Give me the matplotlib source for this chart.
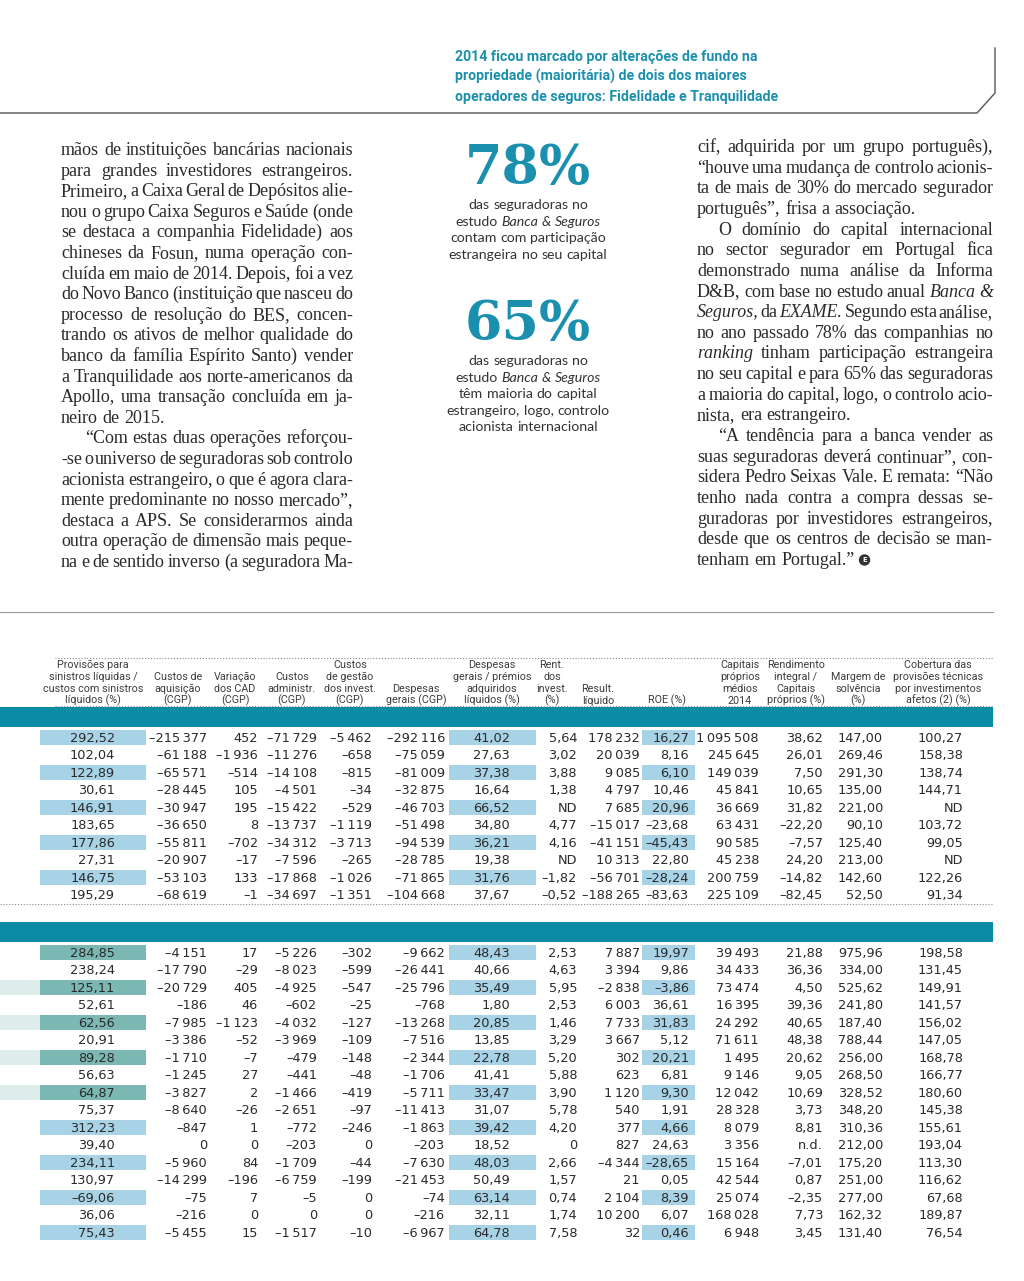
import matplotlib
matplotlib.use('Agg')
import matplotlib.pyplot as plt
from matplotlib import font_manager
from matplotlib.patches import Rectangle, Circle

# ---- page text -------------------------------------------------------
TITLE = ['2014 ficou marcado por alterações de fundo na',
         'propriedade (maioritária) de dois dos maiores',
         'operadores de seguros: Fidelidade e Tranquilidade']

# '>' = indented first line, '|' = last line of paragraph, '*' = italic word
LEFT_COL = [
    'mãos de instituições bancárias nacionais',
    'para grandes investidores estrangeiros.',
    'Primeiro, a Caixa Geral de Depósitos alie-',
    'nou o grupo Caixa Seguros e Saúde (onde',
    'se destaca a companhia Fidelidade) aos',
    'chineses da Fosun, numa operação con-',
    'cluída em maio de 2014. Depois, foi a vez',
    'do Novo Banco (instituição que nasceu do',
    'processo de resolução do BES, concen-',
    'trando os ativos de melhor qualidade do',
    'banco da família Espírito Santo) vender',
    'a Tranquilidade aos norte-americanos da',
    'Apollo, uma transação concluída em ja-',
    'neiro de 2015.|',
    '>“Com estas duas operações reforçou-',
    '-se o universo de seguradoras sob controlo',
    'acionista estrangeiro, o que é agora clara-',
    'mente predominante no nosso mercado”,',
    'destaca a APS. Se considerarmos ainda',
    'outra operação de dimensão mais peque-',
    'na e de sentido inverso (a seguradora Ma-',
]
RIGHT_COL = [
    'cif, adquirida por um grupo português),',
    '“houve uma mudança de controlo acionis-',
    'ta de mais de 30% do mercado segurador',
    'português”, frisa a associação.|',
    '>O domínio do capital internacional',
    'no sector segurador em Portugal fica',
    'demonstrado numa análise da Informa',
    'D&B, com base no estudo anual *Banca *&',
    '*Seguros, da *EXAME. Segundo esta análise,',
    'no ano passado 78% das companhias no',
    '*ranking tinham participação estrangeira',
    'no seu capital e para 65% das seguradoras',
    'a maioria do capital, logo, o controlo acio-',
    'nista, era estrangeiro.|',
    '>“A tendência para a banca vender as',
    'suas seguradoras deverá continuar”, con-',
    'sidera Pedro Seixas Vale. E remata: “Não',
    'tenho nada contra a compra dessas se-',
    'guradoras por investidores estrangeiros,',
    'desde que os centros de decisão se man-',
    'tenham em Portugal.”|',
]

STAT_1 = '78%'
STAT_1_TEXT = ['das seguradoras no', 'estudo *Banca *& *Seguros',
               'contam com participação', 'estrangeira no seu capital']
STAT_2 = '65%'
STAT_2_TEXT = ['das seguradoras no', 'estudo *Banca *& *Seguros',
               'têm maioria do capital', 'estrangeiro, logo, controlo',
               'acionista internacional']

# ---- table -----------------------------------------------------------
HEADERS = [
    ['Provisões para', 'sinistros líquidas /', 'custos com sinistros', 'líquidos (%)'],
    ['Custos de', 'aquisição', '(CGP)'],
    ['Variação', 'dos CAD', '(CGP)'],
    ['Custos', 'administr.', '(CGP)'],
    ['Custos', 'de gestão', 'dos invest.', '(CGP)'],
    ['Despesas', 'gerais (CGP)'],
    ['Despesas', 'gerais / prémios', 'adquiridos', 'líquidos (%)'],
    ['Rent.', 'dos', 'invest.', '(%)'],
    ['Result.', 'líquido'],
    ['ROE (%)'],
    ['Capitais', 'próprios', 'médios', '2014'],
    ['Rendimento', 'integral /', 'Capitais', 'próprios (%)'],
    ['Margem de', 'solvência', '(%)'],
    ['Cobertura das', 'provisões técnicas', 'por investimentos', 'afetos (2) (%)'],
]
SECTION_SIZES = [10, 17]

provisoes_sinistros = [292.52, 102.04, 122.89, 30.61, 146.91, 183.65, 177.86, 27.31, 146.75, 195.29,
                       284.85, 238.24, 125.11, 52.61, 62.56, 20.91, 89.28, 56.63, 64.87, 75.37,
                       312.23, 39.40, 234.11, 130.97, -69.06, 36.06, 75.43]
custos_aquisicao = [-215377, -61188, -65571, -28445, -30947, -36650, -55811, -20907, -53103, -68619,
                    -4151, -17790, -20729, -186, -7985, -3386, -1710, -1245, -3827, -8640,
                    -847, 0, -5960, -14299, -75, -216, -5455]
variacao_cad = [452, -1936, -514, 105, 195, 8, -702, -17, 133, -1,
                17, -29, 405, 46, -1123, -52, -7, 27, 2, -26,
                1, 0, 84, -196, 7, 0, 15]
custos_administrativos = [-71729, -11276, -14108, -4501, -15422, -13737, -34312, -7596, -17868, -34697,
                          -5226, -8023, -4925, -602, -4032, -3969, -479, -441, -1466, -2651,
                          -772, -203, -1709, -6759, -5, 0, -1517]
custos_gestao_invest = [-5462, -658, -815, -34, -529, -1119, -3713, -265, -1026, -1351,
                        -302, -599, -547, -25, -127, -109, -148, -48, -419, -97,
                        -246, 0, -44, -199, 0, 0, -10]
despesas_gerais = [-292116, -75059, -81009, -32875, -46703, -51498, -94539, -28785, -71865, -104668,
                   -9662, -26441, -25796, -768, -13268, -7516, -2344, -1706, -5711, -11413,
                   -1863, -203, -7630, -21453, -74, -216, -6967]
despesas_premios = [41.02, 27.63, 37.38, 16.64, 66.52, 34.80, 36.21, 19.38, 31.76, 37.67,
                    48.43, 40.66, 35.49, 1.80, 20.85, 13.85, 22.78, 41.41, 33.47, 31.07,
                    39.42, 18.52, 48.03, 50.49, 63.14, 32.11, 64.78]
rent_invest = [5.64, 3.02, 3.88, 1.38, 'ND', 4.77, 4.16, 'ND', -1.82, -0.52,
               2.53, 4.63, 5.95, 2.53, 1.46, 3.29, 5.20, 5.88, 3.90, 5.78,
               4.20, '0', 2.66, 1.57, 0.74, 1.74, 7.58]
resultado_liquido = [178232, 20039, 9085, 4797, 7685, -15017, -41151, 10313, -56701, -188265,
                     7887, 3394, -2838, 6003, 7733, 3667, 302, 623, 1120, 540,
                     377, 827, -4344, 21, 2104, 10200, 32]
roe = [16.27, 8.16, 6.10, 10.46, 20.96, -23.68, -45.43, 22.80, -28.24, -83.63,
       19.97, 9.86, -3.86, 36.61, 31.83, 5.12, 20.21, 6.81, 9.30, 1.91,
       4.66, 24.63, -28.65, 0.05, 8.39, 6.07, 0.46]
capitais_proprios = [1095508, 245645, 149039, 45841, 36669, 63431, 90585, 45238, 200759, 225109,
                     39493, 34433, 73474, 16395, 24292, 71611, 1495, 9146, 12042, 28328,
                     8079, 3356, 15164, 42544, 25074, 168028, 6948]
rendimento_integral = [38.62, 26.01, 7.50, 10.65, 31.82, -22.20, -7.57, 24.20, -14.82, -82.45,
                       21.88, 36.36, 4.50, 39.36, 40.65, 48.38, 20.62, 9.05, 10.69, 3.73,
                       8.81, 'n.d.', -7.01, 0.87, -2.35, 7.73, 3.45]
margem_solvencia = [147.00, 269.46, 291.30, 135.00, 221.00, 90.10, 125.40, 213.00, 142.60, 52.50,
                    975.96, 334.00, 525.62, 241.80, 187.40, 788.44, 256.00, 268.50, 328.52, 348.20,
                    310.36, 212.00, 175.20, 251.00, 277.00, 162.32, 131.40]
cobertura_provisoes = [100.27, 158.38, 138.74, 144.71, 'ND', 103.72, 99.05, 'ND', 122.26, 91.34,
                       198.58, 131.45, 149.91, 141.57, 156.02, 147.05, 168.78, 166.77, 180.60, 145.38,
                       155.61, 193.04, 113.30, 116.62, 67.68, 189.87, 76.54]

COLUMNS = [provisoes_sinistros, custos_aquisicao, variacao_cad, custos_administrativos,
           custos_gestao_invest, despesas_gerais, despesas_premios, rent_invest,
           resultado_liquido, roe, capitais_proprios, rendimento_integral,
           margem_solvencia, cobertura_provisoes]
DECIMALS = [2, 0, 0, 0, 0, 0, 2, 2, 0, 2, 0, 2, 2, 2]
HIGHLIGHT_COLS = [0, 6, 9]

# ---- layout / style ----------------------------------------------------
W, H = 1024, 1281
TEAL = '#0c8ba6'
TEAL_TXT = '#1a8fae'
INK = '#2a2a2a'
HL_LIGHT = '#a8d3e6'
HL_DARK = '#7cb8b3'

COL_RIGHT = [115, 207, 258, 317, 372, 445, 510, 577, 640, 689, 759, 823, 883, 963]
HEAD_X = [93, 178, 235, 292, 350, 416, 492, 552, 598, 667, 740, 796, 858, 938]
HL_SPAN = {0: (40, 146), 6: (449, 536), 9: (642, 695)}
SEC_TOP = [737, 952]
BANDS = [(707, 727), (922, 942)]
ROW_STEP = 17.5

names = {f.name for f in font_manager.fontManager.ttflist}


def pick(*cands):
    for c in cands:
        if c in names:
            return c
    return 'DejaVu Sans'


NARROW = pick('Liberation Sans Narrow', 'Roboto')
SERIF = pick('Liberation Serif', 'DejaVu Serif')
LIGHT = pick('Lato', 'Open Sans', 'Roboto')

fig = plt.figure(figsize=(W / 100, H / 100), dpi=100)
fig.patch.set_facecolor('white')
ax = fig.add_axes([0, 0, 1, 1])
ax.set_xlim(0, W)
ax.set_ylim(H, 0)
ax.axis('off')
renderer = fig.canvas.get_renderer()


def width_of(txt, **kw):
    t = ax.text(0, 0, txt, **kw)
    w = t.get_window_extent(renderer).width
    t.remove()
    return w


def fit_size(txt, target, base=10, **kw):
    return base * target / width_of(txt, fontsize=base, **kw)


def word_texts(words, y, size, family, color):
    out = []
    for w in words:
        style = 'italic' if w.startswith('*') else 'normal'
        out.append(ax.text(0, y, w.lstrip('*'), fontsize=size, family=family,
                           style=style, color=color, va='baseline', ha='left'))
    return out


def set_column(lines, x0, x1, y0, step, size, indent=24):
    nat = 0.25 * size * 100 / 72
    end = x0
    for i, line in enumerate(lines):
        ind = line.startswith('>')
        last = line.endswith('|')
        words = line.strip('>|').split(' ')
        y = y0 + i * step
        texts = word_texts(words, y, size, SERIF, INK)
        widths = [t.get_window_extent(renderer).width for t in texts]
        left = x0 + (indent if ind else 0)
        avail = x1 - left
        total = sum(widths)
        n = len(words)
        if last or n == 1:
            gap = nat
        else:
            gap = (avail - total) / (n - 1)
            if gap < 0.45 * nat:
                k = (avail - 0.45 * nat * (n - 1)) / total
                for t in texts:
                    t.set_fontsize(size * k)
                widths = [t.get_window_extent(renderer).width for t in texts]
                gap = (avail - sum(widths)) / (n - 1)
        x = left
        for t, w in zip(texts, widths):
            t.set_x(x)
            x += w + gap
        end = x - gap
    return end


def centered_lines(lines, xc, y0, step, size, family, color):
    nat = 0.27 * size * 100 / 72
    for i, line in enumerate(lines):
        words = line.split(' ')
        texts = word_texts(words, y0 + i * step, size, family, color)
        widths = [t.get_window_extent(renderer).width for t in texts]
        total = sum(widths) + nat * (len(words) - 1)
        x = xc - total / 2
        for t, w in zip(texts, widths):
            t.set_x(x)
            x += w + nat


# ---- header rule + title ----------------------------------------------
ax.plot([0, 977, 995, 995], [113, 113, 93, 48], color='#555555', lw=1.0,
        solid_joinstyle='round')
tsize = fit_size(TITLE[2], 322, family=NARROW, weight='bold')
for i, line in enumerate(TITLE):
    ax.text(455, 61.5 + i * 19.5, line, fontsize=tsize, family=NARROW,
            weight='bold', color=TEAL_TXT, va='baseline', ha='left')

# ---- body columns -----------------------------------------------------
end_left = set_column(LEFT_COL, 61, 353, 155, 20.6, 13)
end_right = set_column(RIGHT_COL, 697, 993, 152, 20.65, 13, indent=21)
ey = 152 + 20 * 20.65 - 5
ax.add_patch(Circle((end_right + 10, ey), 5, color='#333333', zorder=3))
ax.text(end_right + 10, ey + 0.3, 'E', fontsize=5, weight='bold', color='white',
        ha='center', va='center', zorder=4)

# ---- centre statistics ------------------------------------------------
XC = 528
ssize = fit_size(STAT_1, 126, family='DejaVu Serif', weight='bold')
ax.text(XC, 184, STAT_1, fontsize=ssize, family='DejaVu Serif', weight='bold',
        color=TEAL_TXT, ha='center', va='baseline')
ax.text(XC, 340, STAT_2, fontsize=ssize, family='DejaVu Serif', weight='bold',
        color=TEAL_TXT, ha='center', va='baseline')
lsize = fit_size('estrangeira no seu capital', 158, family=LIGHT)
centered_lines(STAT_1_TEXT, XC, 209, 16.6, lsize, LIGHT, '#333333')
centered_lines(STAT_2_TEXT, XC, 365, 16.6, lsize, LIGHT, '#333333')

# ---- table frame ------------------------------------------------------
ax.plot([0, 993], [612, 612], color='#9a9a9a', lw=0.8)
dots = dict(color='#8a8a8a', lw=0.8, linestyle=(0, (1, 1.6)))
ax.plot([55, 993], [658, 658], **dots)
ax.plot([55, 993], [706, 706], **dots)
ax.plot([0, 993], [904, 904], **dots)
for y0, y1 in BANDS:
    ax.add_patch(Rectangle((0, y0), 993, y1 - y0, color=TEAL, lw=0))

hsize = fit_size('custos com sinistros', 100, family=NARROW)
for x, lines in zip(HEAD_X, HEADERS):
    k = len(lines)
    for j, line in enumerate(lines):
        ax.text(x, 703.5 - (k - 1 - j) * 11.8, line, fontsize=hsize, family=NARROW,
                color='#3c3c3c', ha='center', va='baseline')


def fmt(v, dec):
    if isinstance(v, str):
        return v
    s = f'{abs(v):,.{dec}f}'.replace(',', '\u2009').replace('.', ',')
    return ('–' if v < 0 else '') + s


start = 0
for s, n in enumerate(SECTION_SIZES):
    for r in range(n):
        yc = SEC_TOP[s] + r * ROW_STEP
        if r % 2 == 0:
            for c in HIGHLIGHT_COLS:
                x0, x1 = HL_SPAN[c]
                col = HL_DARK if (s == 1 and c == 0 and r <= 8) else HL_LIGHT
                ax.add_patch(Rectangle((x0, yc - 7.5), x1 - x0, 15, color=col, lw=0))
                if s == 1 and c == 0 and 2 <= r <= 8:
                    ax.add_patch(Rectangle((0, yc - 7.5), 40, 15, color=HL_DARK,
                                           alpha=0.25, lw=0))
        for c, vals in enumerate(COLUMNS):
            ax.text(COL_RIGHT[c], yc + 4.6, fmt(vals[start + r], DECIMALS[c]),
                    fontsize=9.3, family='DejaVu Sans', color=INK,
                    ha='right', va='baseline')
    start += n

fig.savefig('out.png', dpi=100, facecolor='white')
